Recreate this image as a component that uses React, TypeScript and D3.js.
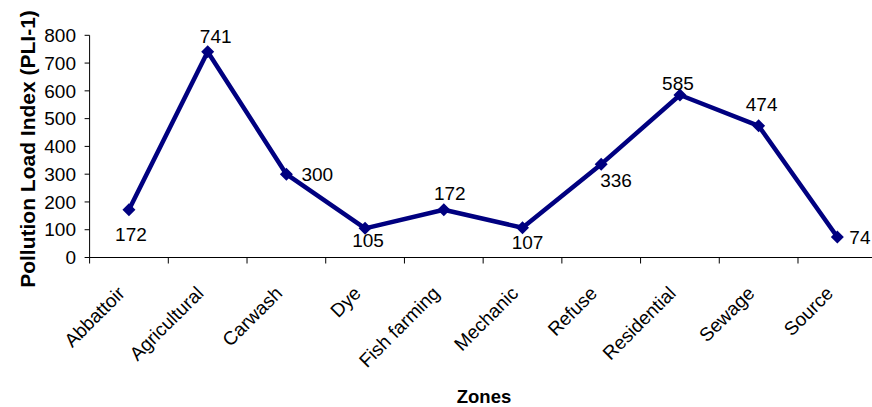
import React from "react";
import * as d3 from "d3";

const categories = ["Abbattoir", "Agricultural", "Carwash", "Dye", "Fish farming", "Mechanic", "Refuse", "Residential", "Sewage", "Source"];
const values = [172, 741, 300, 105, 172, 107, 336, 585, 474, 74];
const yTicks = [0, 100, 200, 300, 400, 500, 600, 700, 800];
// label placement: [dx, dy, anchor]
const labelPlacement: [number, number, string][] = [
  [2, 25, "middle"],
  [8, -15, "middle"],
  [15, 0, "start"],
  [3, 12.5, "middle"],
  [6, -16, "middle"],
  [5, 15, "middle"],
  [-1, 16, "start"],
  [-2, -12, "middle"],
  [3, -21, "middle"],
  [12, 0, "start"],
];

const W = 872;
const H = 407;
const FONT = "'Liberation Sans', Arial, sans-serif";

export default function App() {
  const x = d3.scaleBand<string>().domain(categories).range([89.6, 876.7]).padding(0);
  const y = d3.scaleLinear().domain([0, 800]).range([257.5, 35.3]);
  const cx = (c: string) => (x(c) as number) + x.bandwidth() / 2;
  const line = d3
    .line<number>()
    .x((_, i) => cx(categories[i]))
    .y((v) => y(v));
  const diamond = (px: number, py: number, r: number) =>
    `M${px},${py - r}L${px + r},${py}L${px},${py + r}L${px - r},${py}Z`;
  const x0 = 89.6;
  const yBase = y(0);
  const tickEdges = categories.map((c) => x(c) as number);

  return (
    <svg
      width={W}
      height={H}
      style={{ position: "absolute", left: 0, top: 0, background: "#fff" }}
      fontFamily={FONT}
    >
      <rect width={W} height={H} fill="#fff" />
      {/* y axis */}
      <line x1={x0} x2={x0} y1={y(800)} y2={yBase} stroke="#000" strokeWidth={1} />
      {yTicks.map((t) => (
        <g key={t}>
          <line x1={x0 - 5} x2={x0} y1={y(t)} y2={y(t)} stroke="#000" strokeWidth={1} />
          <text x={76} y={y(t)} dy="0.35em" textAnchor="end" fontSize={19} fill="#000">
            {t}
          </text>
        </g>
      ))}
      {/* x axis */}
      <line x1={x0} x2={W} y1={yBase} y2={yBase} stroke="#000" strokeWidth={1} />
      {tickEdges.map((e, i) => (
        <line key={i} x1={e} x2={e} y1={yBase} y2={yBase + 6} stroke="#000" strokeWidth={1} />
      ))}
      {categories.map((c) => (
        <text
          key={c}
          transform={`translate(${cx(c) - 3},${yBase + 37}) rotate(-45)`}
          textAnchor="end"
          fontSize={19}
          fill="#000"
        >
          {c}
        </text>
      ))}
      {/* line */}
      <path d={line(values) || ""} fill="none" stroke="#000080" strokeWidth={4.5} strokeLinejoin="round" />
      {values.map((v, i) => (
        <path key={i} d={diamond(cx(categories[i]), y(v), 6.5)} fill="#000080" />
      ))}
      {values.map((v, i) => {
        const [dx, dy, anchor] = labelPlacement[i];
        return (
          <text
            key={"l" + i}
            x={cx(categories[i]) + dx}
            y={y(v) + dy}
            dy="0.35em"
            textAnchor={anchor}
            fontSize={19}
            fill="#000"
          >
            {v}
          </text>
        );
      })}
      {/* axis titles */}
      <text
        transform={`translate(35,149) rotate(-90)`}
        textAnchor="middle"
        fontSize={21}
        fontWeight="bold"
        fill="#000"
      >
        Pollution Load Index (PLI-1)
      </text>
      <text x={484} y={403} textAnchor="middle" fontSize={18.5} fontWeight="bold" fill="#000">
        Zones
      </text>
    </svg>
  );
}
